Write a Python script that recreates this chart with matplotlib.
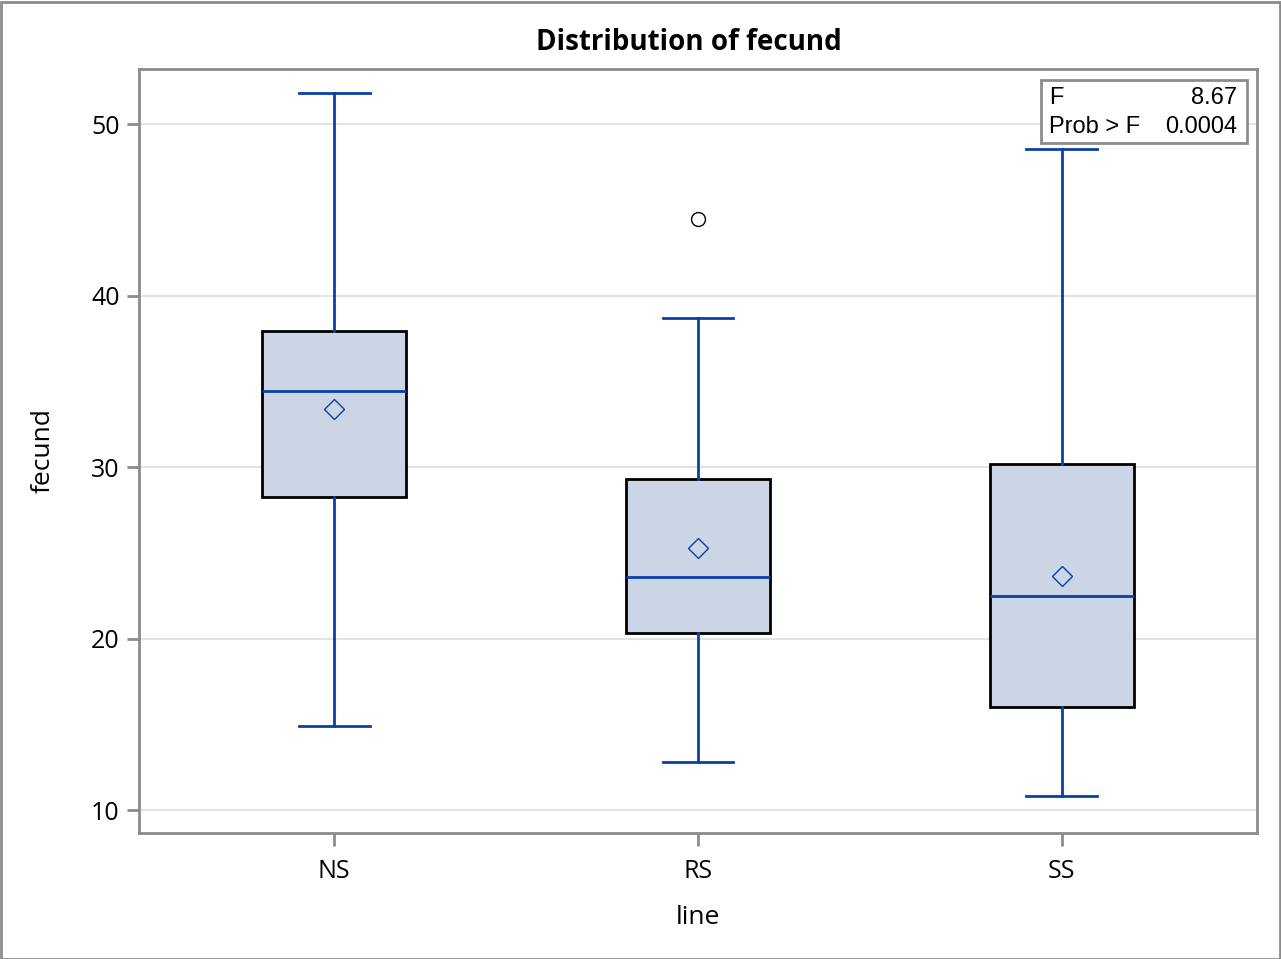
import matplotlib
matplotlib.use("Agg")
import matplotlib.pyplot as plt
from matplotlib.patches import Rectangle

categories = ["NS", "RS", "SS"]
whislo = [14.9, 12.8, 10.82]
q1 = [28.25, 20.32, 16.0]
med = [34.43, 23.59, 22.48]
q3 = [37.93, 29.3, 30.17]
whishi = [51.81, 38.69, 48.54]
means = [33.38, 25.28, 23.64]
outliers = [[], [44.46], []]
yticks = [10, 20, 30, 40, 50]
f_value = "8.67"
p_value = "0.0004"

plt.rcParams['font.family'] = ['Open Sans', 'DejaVu Sans']

W, H = 1281, 959
fig = plt.figure(figsize=(W/100, H/100), dpi=100)
ax = fig.add_axes([139/W, 1 - 833/H, (1257-139)/W, (833-69)/H])

stats = []
for i, c in enumerate(categories):
    stats.append(dict(label=c, whislo=whislo[i], q1=q1[i], med=med[i], q3=q3[i],
                      whishi=whishi[i], mean=means[i], fliers=outliers[i]))

blue = "#0b3fa8"
ax.bxp(stats, positions=range(len(categories)), widths=0.396, showmeans=True,
       patch_artist=True, capwidths=0.195,
       boxprops=dict(facecolor="#cbd5e5", edgecolor="black", linewidth=2),
       medianprops=dict(color=blue, linewidth=2),
       whiskerprops=dict(color=blue, linewidth=2),
       capprops=dict(color=blue, linewidth=2),
       meanprops=dict(marker="D", markerfacecolor="none", markeredgecolor=blue,
                      markersize=10, markeredgewidth=1.0),
       flierprops=dict(marker="o", markerfacecolor="none", markeredgecolor="black",
                       markersize=10, markeredgewidth=1.0),
       zorder=3)

ax.set_xlim(-0.536, 2.536)
ax.set_ylim(8.66, 53.21)
ax.set_yticks(yticks)
ax.yaxis.grid(True, color="#e3e3e3", linewidth=1.5, zorder=0)
ax.set_axisbelow(True)
for s in ax.spines.values():
    s.set_color("#8c8c8c")
    s.set_linewidth(2)
ax.tick_params(axis="both", colors="#8c8c8c", labelcolor="black", labelsize=18,
               length=9, width=2)
ax.tick_params(axis="x", pad=10)
ax.tick_params(axis="y", pad=5)
ax.set_xticks(range(len(categories)))
ax.set_xticklabels(categories)
ax.set_xlabel("line", fontsize=19, va="center")
ax.xaxis.set_label_coords(0.5, (833-917)/764)
ax.set_ylabel("fecund", fontsize=19, va="center")
ax.yaxis.set_label_coords((43-139)/1118, 0.5)
fig.text(689/W, 1 - 42/H, "Distribution of fecund", fontsize=20, fontweight="bold",
         ha="center", va="center")

# stats inset
bx0, by0, bx1, by1 = 1041, 80, 1247, 143
fig.patches.append(Rectangle((bx0/W, 1 - by1/H), (bx1-bx0)/W, (by1-by0)/H,
                             transform=fig.transFigure, facecolor="white",
                             edgecolor="#8c8c8c", linewidth=2, zorder=5))
fp = dict(family=["Liberation Sans", "DejaVu Sans"], fontsize=17, zorder=6)
fig.text(1049/W, 1 - 98/H, "F", ha="left", va="center", **fp)
fig.text(1237/W, 1 - 98/H, f_value, ha="right", va="center", **fp)
fig.text(1049/W, 1 - 127/H, "Prob > F", ha="left", va="center", **fp)
fig.text(1237/W, 1 - 127/H, p_value, ha="right", va="center", **fp)

# outer border
fig.patches.append(Rectangle((0.5/W, 0.5/H), 1279/W, 957/H, transform=fig.transFigure,
                             facecolor="none", edgecolor="#8c8c8c", linewidth=2))

fig.savefig("out.png", dpi=100)
